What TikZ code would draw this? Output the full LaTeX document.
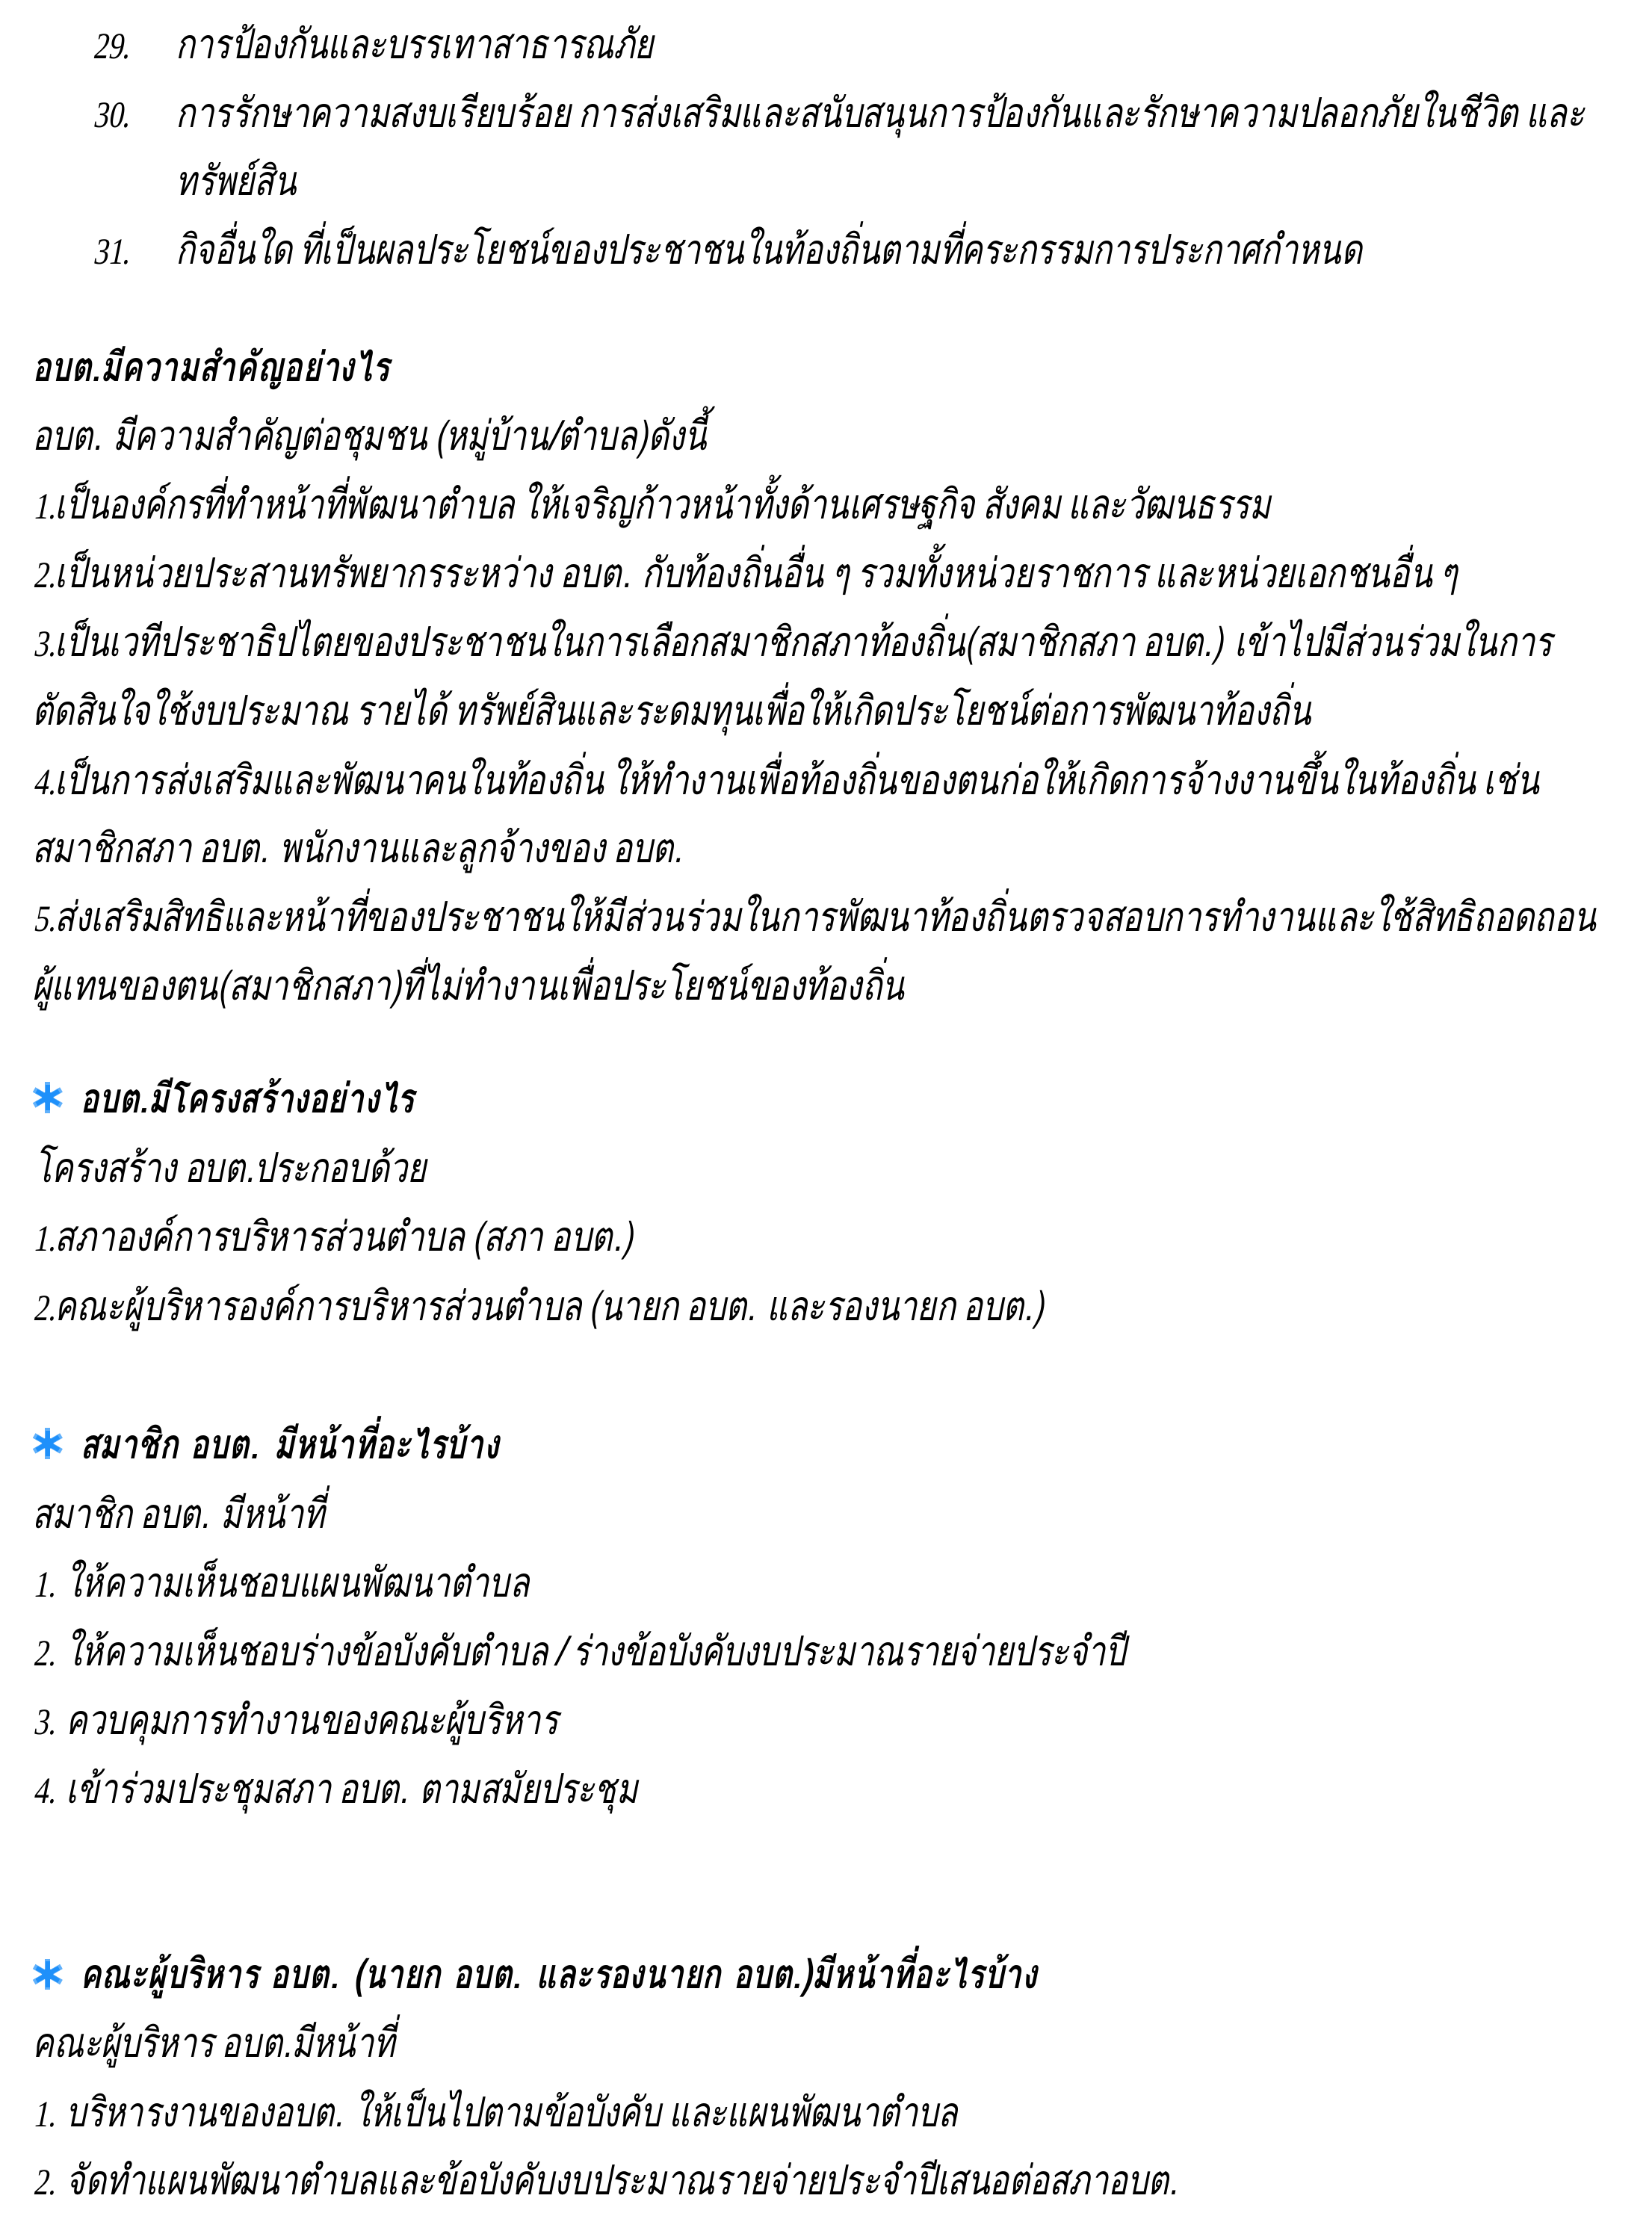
\documentclass[tikz,border=0pt]{standalone}
\usepackage{fontspec}
\newfontfamily\thaifont[Script=Thai,FakeSlant=0.2,FakeStretch=0.78,WordSpace=0.7]{Loma}
\newfontfamily\thaiwide[Script=Thai,FakeSlant=0.2,FakeStretch=0.792,WordSpace=0.7]{Loma}
\newfontfamily\thaibold[Script=Thai,FakeSlant=0.2,FakeStretch=0.765,WordSpace=1.1]{Loma Bold}
\newfontfamily\digitfont[FakeStretch=0.8,FakeSlant=0.2]{Liberation Serif}
\newcommand{\lat}[1]{{\digitfont\fontsize{26}{26}\selectfont #1}}
\definecolor{starblue}{RGB}{30,144,250}
\begin{document}
\begin{tikzpicture}[
		x=1pt,y=-1pt,
		every node/.style={
			anchor=base west,
			inner sep=0pt,
			font=\thaifont\fontsize{29}{29}\selectfont,
			black
		},
		headtext/.style={font=\thaibold\fontsize{29}{29}\selectfont},
		widetext/.style={font=\thaiwide\fontsize{29}{29}\selectfont},
		starmark/.pic={
			\foreach \a in {30,90,150}{
				\draw[starblue!70,line width=3.8pt] (\a:11pt) -- (\a+180:11pt);
				\draw[starblue,line width=3pt] (\a:9pt) -- (\a+180:9pt);
			}
			\fill[starblue] (0,0) circle(4pt);
		}
	]

	\useasboundingbox[fill=white] (0,0) rectangle (1160,1563.1);

	% list at the top
	\node (n29) at (65,41) {\lat{29.}};
	\node (t29) at (123.5,41) {การป้องกันและบรรเทาสาธารณภัย};
	\node (n30) at (65,89.5) {\lat{30.}};
	\node[widetext] (t30) at (123.5,89.5) {การรักษาความสงบเรียบร้อย การส่งเสริมและสนับสนุนการป้องกันและรักษาความปลอกภัยในชีวิต และ};
	\node (t30b) at (123.5,137.5) {ทรัพย์สิน};
	\node (n31) at (65,185.5) {\lat{31.}};
	\node (t31) at (123.5,185.5) {กิจอื่นใด ที่เป็นผลประโยชน์ของประชาชนในท้องถิ่นตามที่คระกรรมการประกาศกำหนด};

	% importance
	\node[headtext] (h1) at (22.5,268) {อบต.มีความสำคัญอย่างไร};
	\node (a0) at (22.5,316) {อบต. มีความสำคัญต่อชุมชน (หมู่บ้าน/ตำบล)ดังนี้};
	\node (a1) at (23,364.5) {\lat{1.}เป็นองค์กรที่ทำหน้าที่พัฒนาตำบล ให้เจริญก้าวหน้าทั้งด้านเศรษฐกิจ สังคม และวัฒนธรรม};
	\node[widetext] (a2) at (23,413) {\lat{2.}เป็นหน่วยประสานทรัพยากรระหว่าง อบต. กับท้องถิ่นอื่น ๆ รวมทั้งหน่วยราชการ และหน่วยเอกชนอื่น ๆ};
	\node (a3) at (23,461) {\lat{3.}เป็นเวทีประชาธิปไตยของประชาชนในการเลือกสมาชิกสภาท้องถิ่น(สมาชิกสภา อบต.) เข้าไปมีส่วนร่วมในการ};
	\node (a3b) at (22.5,509.5) {ตัดสินใจใช้งบประมาณ รายได้ ทรัพย์สินและระดมทุนเพื่อให้เกิดประโยชน์ต่อการพัฒนาท้องถิ่น};
	\node[widetext] (a4) at (23,558) {\lat{4.}เป็นการส่งเสริมและพัฒนาคนในท้องถิ่น ให้ทำงานเพื่อท้องถิ่นของตนก่อให้เกิดการจ้างงานขึ้นในท้องถิ่น เช่น};
	\node (a4b) at (22.5,606) {สมาชิกสภา อบต. พนักงานและลูกจ้างของ อบต.};
	\node[widetext] (a5) at (23,654.5) {\lat{5.}ส่งเสริมสิทธิและหน้าที่ของประชาชนให้มีส่วนร่วมในการพัฒนาท้องถิ่นตรวจสอบการทำงานและใช้สิทธิถอดถอน};
	\node[widetext] (a5b) at (22.5,702.5) {ผู้แทนของตน(สมาชิกสภา)ที่ไม่ทำงานเพื่อประโยชน์ของท้องถิ่น};

	% structure
	\pic at (33.5,771) {starmark};
	\node[headtext] (h2) at (56,782) {อบต.มีโครงสร้างอย่างไร};
	\node (b0) at (24,830.5) {โครงสร้าง อบต.ประกอบด้วย};
	\node[widetext] (b1) at (23,879) {\lat{1.}สภาองค์การบริหารส่วนตำบล (สภา อบต.)};
	\node (b2) at (23,927.5) {\lat{2.}คณะผู้บริหารองค์การบริหารส่วนตำบล (นายก อบต. และรองนายก อบต.)};

	% members
	\pic at (33.5,1014) {starmark};
	\node[headtext] (h3) at (56,1025) {สมาชิก อบต. มีหน้าที่อะไรบ้าง};
	\node (c0) at (22.5,1073.5) {สมาชิก อบต. มีหน้าที่};
	\node (c1) at (23,1122) {\lat{1.} ให้ความเห็นชอบแผนพัฒนาตำบล};
	\node (c2) at (23,1170) {\lat{2.} ให้ความเห็นชอบร่างข้อบังคับตำบล / ร่างข้อบังคับงบประมาณรายจ่ายประจำปี};
	\node (c3) at (23,1218.5) {\lat{3.} ควบคุมการทำงานของคณะผู้บริหาร};
	\node (c4) at (23,1267) {\lat{4.} เข้าร่วมประชุมสภา อบต. ตามสมัยประชุม};

	% executives
	\pic at (33.5,1387) {starmark};
	\node[headtext] (h4) at (56,1397) {คณะผู้บริหาร อบต. (นายก อบต. และรองนายก อบต.)มีหน้าที่อะไรบ้าง};
	\node (d0) at (22.5,1445.5) {คณะผู้บริหาร อบต.มีหน้าที่};
	\node (d1) at (23,1494) {\lat{1.} บริหารงานของอบต. ให้เป็นไปตามข้อบังคับ และแผนพัฒนาตำบล};
	\node (d2) at (23,1542) {\lat{2.} จัดทำแผนพัฒนาตำบลและข้อบังคับงบประมาณรายจ่ายประจำปีเสนอต่อสภาอบต.};

\end{tikzpicture}
\end{document}
